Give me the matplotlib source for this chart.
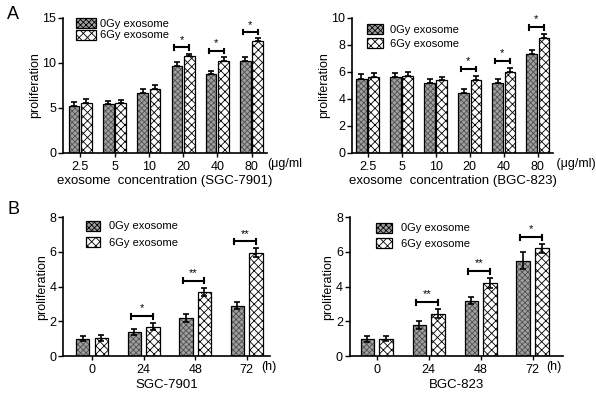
import numpy as np
import matplotlib
matplotlib.use('Agg')
import matplotlib.pyplot as plt
from matplotlib.patches import Patch

plt.rcParams['font.family'] = ['Liberation Sans', 'DejaVu Sans']
plt.rcParams['hatch.linewidth'] = 0.6

# panel A data
conc_labels = ['2.5', '5', '10', '20', '40', '80']
sgc_conc_0gy = [5.2, 5.4, 6.6, 9.6, 8.8, 10.2]
sgc_conc_0gy_err = [0.4, 0.4, 0.5, 0.5, 0.3, 0.4]
sgc_conc_6gy = [5.5, 5.5, 7.1, 10.7, 10.2, 12.4]
sgc_conc_6gy_err = [0.5, 0.4, 0.4, 0.3, 0.4, 0.3]
sgc_conc_sig = ['', '', '', '*', '*', '*']

bgc_conc_0gy = [5.5, 5.6, 5.2, 4.4, 5.2, 7.3]
bgc_conc_0gy_err = [0.3, 0.3, 0.3, 0.3, 0.3, 0.3]
bgc_conc_6gy = [5.6, 5.7, 5.4, 5.4, 6.0, 8.5]
bgc_conc_6gy_err = [0.3, 0.3, 0.2, 0.3, 0.3, 0.3]
bgc_conc_sig = ['', '', '', '*', '*', '*']

# panel B data
time_labels = ['0', '24', '48', '72']
sgc_time_0gy = [1.0, 1.4, 2.2, 2.9]
sgc_time_0gy_err = [0.15, 0.18, 0.22, 0.2]
sgc_time_6gy = [1.05, 1.7, 3.7, 5.95]
sgc_time_6gy_err = [0.15, 0.2, 0.25, 0.25]
sgc_time_sig = ['', '*', '**', '**']

bgc_time_0gy = [1.0, 1.8, 3.2, 5.5]
bgc_time_0gy_err = [0.18, 0.25, 0.2, 0.5]
bgc_time_6gy = [1.0, 2.45, 4.2, 6.2]
bgc_time_6gy_err = [0.15, 0.25, 0.28, 0.25]
bgc_time_sig = ['', '**', '**', '*']

FILL0 = dict(facecolor='#a0a0a0', edgecolor='#505050', hatch='xxxxxx', linewidth=0)
FILL6 = dict(facecolor='white', edgecolor='black', hatch='xxxx', linewidth=0)


def panel(ax, labels, v0, e0, v6, e6, sig, ymax, yticks, off, width,
          both_err, unit, unit_x, xlabel, br_gap, leg):
  x = np.arange(len(labels))
  ekw = dict(ecolor='black', capsize=2.5, error_kw=dict(elinewidth=1.2, capthick=1.2))
  lo0 = e0 if both_err else [0.0] * len(e0)
  lo6 = e6 if both_err else [0.0] * len(e6)
  ax.bar(x - off, v0, width, **FILL0)
  ax.bar(x + off, v6, width, **FILL6)
  ax.bar(x - off, v0, width, yerr=[lo0, e0], fill=False, edgecolor='black',
         linewidth=0.9, **ekw)
  ax.bar(x + off, v6, width, yerr=[lo6, e6], fill=False, edgecolor='black',
         linewidth=0.9, **ekw)
  for i, s in enumerate(sig):
    if not s:
      continue
    top = max(v0[i] + e0[i], v6[i] + e6[i]) + br_gap
    x1, x2 = x[i] - off - width * 0.25, x[i] + off
    h = br_gap * 0.35
    ax.plot([x1, x2], [top, top], color='black', lw=1.5)
    ax.plot([x1, x1], [top - h, top + h], color='black', lw=1.5)
    ax.plot([x2, x2], [top - h, top + h], color='black', lw=1.5)
    ax.text((x1 + x2) / 2, top + br_gap * 0.4, s, ha='center', va='bottom', fontsize=8)
  ax.set_ylim(0, ymax)
  ax.set_yticks(yticks)
  ax.set_xticks(x)
  ax.set_xticklabels(labels, fontsize=9)
  ax.tick_params(axis='y', labelsize=9, length=3.5, width=1, pad=1.5)
  ax.tick_params(axis='x', length=3, width=1, pad=2.5)
  ax.spines['top'].set_visible(False)
  ax.spines['right'].set_visible(False)
  ax.spines['left'].set_linewidth(1.2)
  ax.spines['bottom'].set_linewidth(1.2)
  ax.set_xlabel(xlabel, fontsize=9.5, labelpad=2)
  ax.set_ylabel('proliferation', fontsize=9, labelpad=1)
  ax.text(unit_x, -0.035, unit, transform=ax.transAxes, ha='left', va='top', fontsize=9)
  handles = [Patch(**dict(FILL0, linewidth=0.9, edgecolor='black')),
             Patch(**dict(FILL6, linewidth=0.9))]
  ax.legend(handles, ['0Gy exosome', '6Gy exosome'], loc='upper left',
            bbox_to_anchor=leg[0], frameon=False, fontsize=8,
            handlelength=leg[1], handletextpad=leg[2], labelspacing=leg[3],
            handleheight=1.0, borderpad=0, borderaxespad=0)


fig = plt.figure(figsize=(5.96, 3.94), dpi=100)

ax1 = fig.add_axes([0.106, 0.612, 0.342, 0.343])
panel(ax1, conc_labels, sgc_conc_0gy, sgc_conc_0gy_err, sgc_conc_6gy, sgc_conc_6gy_err,
      sgc_conc_sig, 15, [0, 5, 10, 15], 0.18, 0.31, False, '(μg/ml', 1.0,
      'exosome  concentration (SGC-7901)', 0.7, ((0.065, 1.0), 1.8, 0.3, 0.1))
ax1.set_xlim(-0.5, 5.45)

ax2 = fig.add_axes([0.591, 0.612, 0.337, 0.343])
panel(ax2, conc_labels, bgc_conc_0gy, bgc_conc_0gy_err, bgc_conc_6gy, bgc_conc_6gy_err,
      bgc_conc_sig, 10, [0, 2, 4, 6, 8, 10], 0.18, 0.31, False, ' (μg/ml)', 1.0,
      'exosome  concentration (BGC-823)', 0.5, ((0.075, 0.955), 1.4, 0.6, 0.3))
ax2.set_xlim(-0.45, 5.45)

ax3 = fig.add_axes([0.106, 0.096, 0.347, 0.353])
panel(ax3, time_labels, sgc_time_0gy, sgc_time_0gy_err, sgc_time_6gy, sgc_time_6gy_err,
      sgc_time_sig, 8, [0, 2, 4, 6, 8], 0.18, 0.26, True, '(h)', 0.96,
      'SGC-7901', 0.4, ((0.11, 0.975), 1.3, 0.8, 0.5))
ax3.set_xlim(-0.56, 3.45)

ax4 = fig.add_axes([0.587, 0.096, 0.357, 0.353])
panel(ax4, time_labels, bgc_time_0gy, bgc_time_0gy_err, bgc_time_6gy, bgc_time_6gy_err,
      bgc_time_sig, 8, [0, 2, 4, 6, 8], 0.18, 0.26, True, '(h)', 0.925,
      'BGC-823', 0.4, ((0.125, 0.96), 1.4, 0.8, 0.45))
ax4.set_xlim(-0.52, 3.58)

fig.text(0.012, 0.985, 'A', fontsize=13, va='top')
fig.text(0.012, 0.49, 'B', fontsize=13, va='top')

fig.savefig('out.png', dpi=100)
